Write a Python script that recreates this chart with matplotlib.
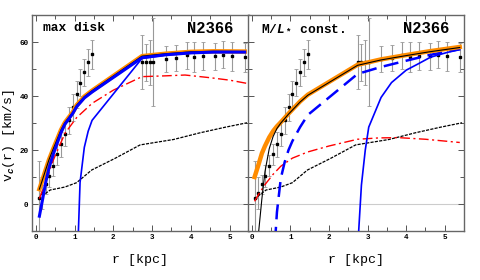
import numpy as np
import matplotlib
matplotlib.use("Agg")
import matplotlib.pyplot as plt

plt.rcParams['font.family'] = ['Liberation Mono', 'DejaVu Sans Mono']
plt.rcParams['font.weight'] = 'bold'
plt.rcParams['mathtext.fontset'] = 'custom'
plt.rcParams['mathtext.rm'] = 'Liberation Mono:bold'
plt.rcParams['mathtext.it'] = 'Liberation Mono:italic:bold'
plt.rcParams['mathtext.bf'] = 'Liberation Mono:bold'

# observed rotation curve
r_obs = [0.09, 0.16, 0.26, 0.34, 0.45, 0.55, 0.65, 0.75, 0.85, 0.95, 1.05, 1.14, 1.25, 1.35, 1.45,
         2.74, 2.84, 2.94, 3.03, 3.35, 3.62, 3.90, 4.09, 4.32, 4.63, 4.82, 5.07, 5.39]
v_obs = [2.4, 4.0, 7.3, 10.4, 14.2, 18.4, 22.1, 25.9, 31.0, 35.9, 40.7, 44.9, 48.9, 52.6, 55.5,
         52.5, 52.5, 52.5, 52.6, 53.6, 54.1, 55.1, 54.4, 54.9, 54.7, 55.4, 54.7, 54.4]
v_err = [13.5, 6.0, 3.5, 4.0, 4.0, 4.0, 4.5, 4.5, 5.0, 5.0, 5.0, 5.0, 5.0, 5.0, 5.3,
         10.0, 6.8, 8.4, 16.3, 4.8, 4.9, 5.0, 5.5, 5.3, 5.0, 5.0, 5.3, 5.4]

# gas (same in both panels)
r_gas = [0.09, 0.19, 0.37, 0.58, 0.75, 1.05, 1.25, 1.44, 2.04, 2.69, 3.03, 3.55, 4.24, 4.9, 5.45]
v_gas = [1.5, 3.3, 5.2, 5.8, 6.3, 7.9, 10.3, 12.6, 16.9, 21.9, 22.7, 23.9, 26.4, 28.5, 30.1]

# max disk panel
r_tot1 = [0.09, 0.17, 0.26, 0.34, 0.45, 0.55, 0.65, 0.75, 0.95, 1.05, 1.25, 1.45, 2.74, 3.35, 4.0, 4.6, 5.39]
v_tot1 = [5.5, 9.0, 13.0, 16.5, 20.5, 24.0, 27.5, 30.2, 34.0, 36.6, 39.8, 42.0, 54.8, 55.7, 56.4, 56.6, 56.5]
v_fit1 = [-4.5, 1.5, 8.5, 13.5, 18.5, 22.5, 26.5, 29.6, 33.5, 36.0, 39.3, 41.5, 54.2, 55.3, 56.0, 56.3, 56.3]
r_halo1 = [1.05, 1.14, 1.25, 1.35, 1.45, 2.74, 3.35, 4.0, 4.6, 5.39]
v_halo1 = [-30, 8, 21, 27, 31, 54.0, 55.2, 55.9, 56.2, 56.2]
r_disk1 = [0.09, 0.26, 0.45, 0.75, 1.05, 1.45, 2.0, 2.74, 3.35, 3.85, 4.5, 5.0, 5.45]
v_disk1 = [2.0, 8.5, 16.3, 26.2, 32.0, 37.3, 42.2, 47.2, 47.5, 47.8, 46.8, 45.9, 44.7]

# M/L const panel
r_tot2 = [0.07, 0.17, 0.26, 0.34, 0.45, 0.55, 0.65, 0.75, 0.95, 1.05, 1.25, 1.45, 2.74, 3.35, 4.0, 4.6, 5.39]
v_tot2 = [10.0, 14.5, 18.8, 21.5, 24.7, 27.0, 28.8, 30.3, 33.5, 35.0, 38.0, 40.5, 51.6, 53.6, 55.2, 56.6, 58.2]
r_fit2 = [0.15, 0.26, 0.34, 0.45, 0.55, 0.65, 0.75, 0.95, 1.05, 1.25, 1.45, 2.74, 3.35, 4.0, 4.6, 5.39]
v_fit2 = [-14, 2.0, 12.0, 20.5, 25.0, 28.0, 30.0, 33.3, 34.8, 37.8, 40.3, 51.4, 53.4, 55.0, 56.4, 58.0]
r_dm2 = [0.6, 0.65, 0.75, 0.85, 0.95, 1.05, 1.25, 1.45, 2.74, 3.35, 4.0, 4.6, 5.39]
v_dm2 = [-14, -3, 9.5, 15.5, 20.0, 23.3, 28.5, 33.0, 48.2, 50.8, 53.1, 55.2, 57.4]
r_halo2 = [2.74, 2.84, 2.94, 3.03, 3.35, 3.62, 4.0, 4.32, 4.63, 5.07, 5.39]
v_halo2 = [-17, 7, 20, 28.5, 39.5, 45.0, 49.6, 52.0, 54.4, 56.2, 57.2]
r_disk2 = [0.07, 0.17, 0.34, 0.55, 0.75, 1.05, 1.45, 2.0, 2.74, 3.3, 3.8, 4.5, 5.39]
v_disk2 = [1.0, 3.5, 7.2, 11.0, 14.0, 17.0, 19.3, 21.5, 24.0, 24.5, 24.6, 24.0, 22.8]

fig = plt.figure(figsize=(4.8, 2.8), dpi=100)
ax1 = fig.add_axes([0.0667, 0.175, 0.452, 0.771])
ax2 = fig.add_axes([0.5167, 0.175, 0.450, 0.771])

for ax in (ax1, ax2):
    ax.axhline(0, color='#cccccc', lw=0.8, zorder=0)
    ax.errorbar(r_obs, v_obs, yerr=v_err, fmt='s', color='k', ms=2.0,
                ecolor='#999999', elinewidth=0.8, capsize=1.5, capthick=0.6, zorder=2)
    ax.plot(r_gas, v_gas, color='k', ls=(0, (2.5, 1)), lw=0.9, zorder=3)
    ax.set_xlim(-0.1, 5.5)
    ax.set_ylim(-10, 70)
    ax.set_xticks(np.arange(0, 6, 1))
    ax.set_xticks(np.arange(0, 5.6, 0.5), minor=True)
    ax.set_yticks(np.arange(0, 70, 20))
    ax.set_yticks(np.arange(-10, 71, 10), minor=True)
    ax.tick_params(which='both', direction='in', top=True, right=True,
                   labelsize=5.5, color='#555555', width=0.7, pad=2.5)
    ax.tick_params(which='major', length=4)
    ax.tick_params(which='minor', length=3)
    for s in ax.spines.values():
        s.set_color('#666666')
        s.set_linewidth(1.0)
    ax.set_xlabel('r [kpc]', fontsize=9.5, labelpad=9)

# left: max disk
ax1.plot(r_disk1, v_disk1, color='red', ls=(0, (7, 2.5, 1.5, 2.5)), lw=1.0, zorder=4)
ax1.plot(r_halo1, v_halo1, color='blue', lw=1.2, zorder=4)
ax1.plot(r_tot1, v_tot1, color='darkorange', lw=3.2, zorder=5)
ax1.plot(r_tot1, v_tot1, color='k', lw=0.8, zorder=6)
ax1.plot(r_tot1, v_fit1, color='blue', lw=2.2, zorder=7)
ax1.set_ylabel('v$_c$(r) [km/s]', fontsize=9.5)
ax1.yaxis.set_label_coords(-0.068, 0.44)
ax1.text(0.052, 0.94, 'max disk', transform=ax1.transAxes, fontsize=9.3,
         va='center', ha='left')
ax1.text(0.926, 0.94, 'N2366', transform=ax1.transAxes, fontsize=11.2,
         va='center', ha='right')

# right: M/L const
ax2.plot(r_disk2, v_disk2, color='red', ls=(0, (7, 2.5, 1.5, 2.5)), lw=1.0, zorder=4)
ax2.plot(r_halo2, v_halo2, color='blue', lw=1.2, zorder=4)
ax2.plot(r_dm2, v_dm2, color='blue', ls=(0, (6, 3)), lw=1.8, zorder=4)
ax2.plot(r_tot2, v_tot2, color='darkorange', lw=3.2, zorder=5)
ax2.plot(r_fit2, v_fit2, color='k', lw=0.8, zorder=6)
ax2.tick_params(labelleft=False)
ax2.text(0.059, 0.94, 'M/$L_*$ const.', transform=ax2.transAxes, fontsize=9.3,
         va='center', ha='left')
ax2.text(0.932, 0.94, 'N2366', transform=ax2.transAxes, fontsize=11.2,
         va='center', ha='right')

fig.savefig('out.png', dpi=100)
